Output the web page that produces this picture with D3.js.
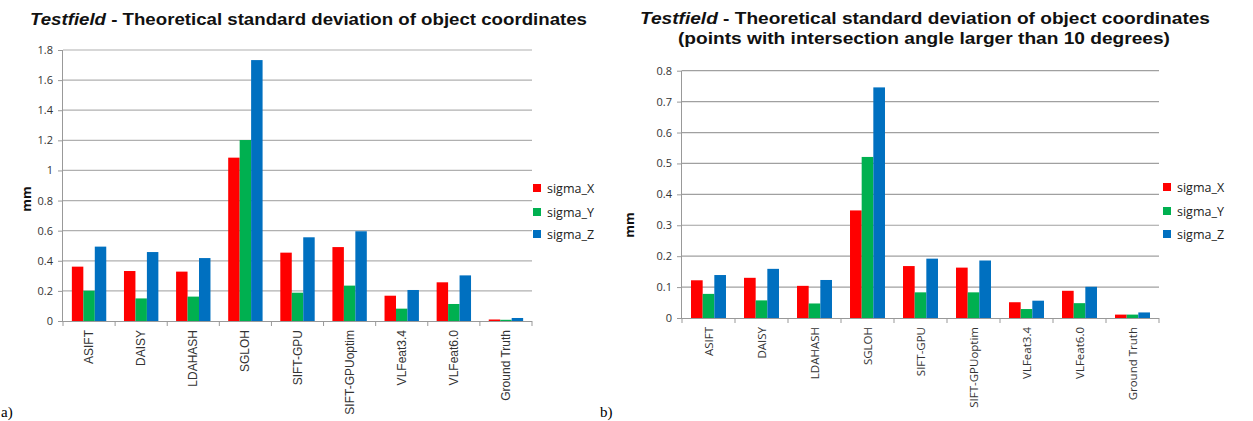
<!DOCTYPE html>
<html><head><meta charset="utf-8">
<script src="https://cdn.jsdelivr.net/npm/d3@7"></script>
<style>body{margin:0;background:#fff}svg{display:block}</style>
</head><body>
<svg id="c" width="1253" height="421"></svg>
<script>
const categories = ["ASIFT","DAISY","LDAHASH","SGLOH","SIFT-GPU","SIFT-GPUoptim","VLFeat3.4","VLFeat6.0","Ground Truth"];
const seriesNames = ["sigma_X","sigma_Y","sigma_Z"];
// Chart a) all points
const aSigmaX = [0.361,0.332,0.328,1.085,0.454,0.491,0.168,0.257,0.010];
const aSigmaY = [0.201,0.150,0.162,1.202,0.188,0.235,0.082,0.113,0.008];
const aSigmaZ = [0.494,0.458,0.418,1.733,0.556,0.596,0.206,0.303,0.020];
const aTicks = [0,0.2,0.4,0.6,0.8,1,1.2,1.4,1.6,1.8];
// Chart b) intersection angle > 10 degrees
const bSigmaX = [0.122,0.130,0.104,0.348,0.168,0.163,0.051,0.088,0.011];
const bSigmaY = [0.078,0.057,0.047,0.521,0.083,0.083,0.029,0.048,0.011];
const bSigmaZ = [0.139,0.159,0.123,0.746,0.192,0.186,0.056,0.101,0.018];
const bTicks = [0,0.1,0.2,0.3,0.4,0.5,0.6,0.7,0.8];
const colors = ["#ff0000","#00b050","#0070c0"];

const svg = d3.select("#c");

function chart(cfg){
  const g = svg.append("g");
  const x = d3.scaleBand().domain(categories).range([cfg.x0,cfg.x1]).padding(0);
  const x1 = d3.scaleBand().domain(seriesNames).range([x.bandwidth()*0.17, x.bandwidth()*0.83]).padding(0);
  const y = d3.scaleLinear().domain([0,cfg.max]).range([cfg.y0,cfg.yTop]);
  g.append("g").selectAll("line").data(cfg.ticks.slice(1)).join("line")
    .attr("x1",cfg.x0).attr("x2",cfg.x1).attr("y1",d=>y(d)).attr("y2",d=>y(d))
    .attr("stroke",cfg.grid).attr("stroke-width",1.2);
  const ya = g.append("g").attr("transform",`translate(${cfg.x0},0)`)
    .call(d3.axisLeft(y).tickValues(cfg.ticks).tickSize(5).tickPadding(5).tickFormat(d=>String(d)));
  ya.select(".domain").attr("stroke","#999").attr("d",`M-0.5,${cfg.y0}V${cfg.yTop}`);
  ya.selectAll(".tick line").attr("stroke","#999");
  ya.selectAll("text").attr("fill","#333").style("font-family","'Open Sans',sans-serif").style("font-size","11px");
  const data = [cfg.sx,cfg.sy,cfg.sz];
  categories.forEach((c,i)=>{
    seriesNames.forEach((s,j)=>{
      g.append("rect").attr("x",x(c)+x1(s)).attr("width",x1.bandwidth())
        .attr("y",y(data[j][i])).attr("height",cfg.y0-y(data[j][i])).attr("fill",colors[j]);
    });
  });
  const xa = g.append("g").attr("transform",`translate(0,${cfg.y0})`)
    .call(d3.axisBottom(x).tickSize(0).tickFormat(""));
  xa.select(".domain").attr("stroke","#999").attr("d",`M${cfg.x0},0.5H${cfg.x1}`);
  const bounds = categories.map(c=>x(c)).concat([cfg.x1]);
  g.append("g").selectAll("line").data(bounds).join("line")
    .attr("x1",d=>d).attr("x2",d=>d).attr("y1",cfg.y0).attr("y2",cfg.y0+5).attr("stroke","#999");
  g.append("g").selectAll("text").data(categories).join("text")
    .attr("transform",d=>`translate(${x(d)+x.bandwidth()/2+4},${cfg.y0+9}) rotate(-90)`)
    .attr("text-anchor","end").attr("fill","#333")
    .style("font-family",cfg.xfont).style("font-size",cfg.xsize).text(d=>d);
  g.append("text").attr("transform",`translate(${cfg.mmx},${cfg.mmy}) rotate(-90)`)
    .attr("text-anchor","middle").attr("font-weight","bold").attr("fill","#111")
    .style("font-family","'Open Sans',sans-serif").style("font-size","13px").text("mm");
  seriesNames.forEach((s,j)=>{
    const ly = cfg.legY[j];
    g.append("rect").attr("x",cfg.legX).attr("y",ly-4).attr("width",8).attr("height",8).attr("fill",colors[j]);
    g.append("text").attr("x",cfg.legX+14).attr("y",ly+4.5).attr("fill","#222")
      .style("font-family","'Open Sans',sans-serif").style("font-size","12.5px").text(s);
  });
}

chart({x0:63,x1:532,y0:321,yTop:50,max:1.8,ticks:aTicks,sx:aSigmaX,sy:aSigmaY,sz:aSigmaZ,grid:"#b0b0b0",
  xfont:"'Liberation Sans',Arial,sans-serif",xsize:"12px",mmx:31,mmy:199,legX:533,legY:[188,212,234]});
chart({x0:682,x1:1159,y0:318,yTop:70.7,max:0.8,ticks:bTicks,sx:bSigmaX,sy:bSigmaY,sz:bSigmaZ,grid:"#a0a0a0",
  xfont:"'Open Sans',sans-serif",xsize:"11.5px",mmx:634,mmy:225,legX:1163,legY:[187,211,234]});

function title(xp,yp,anchor,len,parts){
  const t = svg.append("text").attr("x",xp).attr("y",yp).attr("text-anchor",anchor)
    .attr("textLength",len).attr("lengthAdjust","spacingAndGlyphs")
    .style("font-family","'Liberation Sans',Arial,sans-serif").style("font-size","16.5px")
    .attr("font-weight","bold").attr("fill","#111");
  parts.forEach(p=>t.append("tspan").attr("font-style",p[1]?"italic":"normal").text(p[0]));
}
title(30,25,"start",557,[["Testfield",true],[" - Theoretical  standard  deviation  of object  coordinates",false]]);
title(925,24,"middle",570,[["Testfield",true],[" - Theoretical  standard  deviation  of object  coordinates",false]]);
title(924,44,"middle",492,[["(points  with intersection  angle  larger  than  10 degrees)",false]]);

svg.append("text").attr("x",1).attr("y",417).style("font-family","'Liberation Serif',serif").style("font-size","15px").text("a)");
svg.append("text").attr("x",600).attr("y",417).style("font-family","'Liberation Serif',serif").style("font-size","15px").text("b)");
</script>
</body></html>
